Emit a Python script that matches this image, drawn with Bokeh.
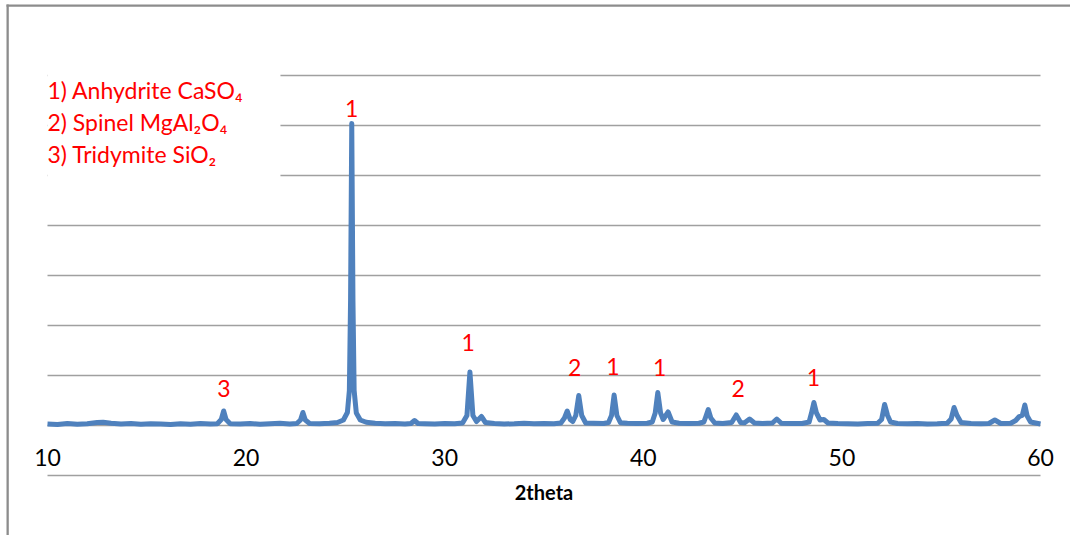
from bokeh.plotting import figure
from bokeh.models import (Range1d, LinearAxis, FixedTicker, Grid, BoxAnnotation,
                          Label, ColumnDataSource)
from bokeh.core.properties import value
from bokeh.embed import file_html
from bokeh.resources import INLINE

# XRD pattern (2theta in degrees, intensity in counts)
two_theta = [
    10.0, 10.5, 11.0, 11.5, 12.0, 12.5, 12.8, 13.2, 13.7, 14.2, 14.7, 15.2, 15.7,
    16.2, 16.7, 17.2, 17.7, 18.2, 18.55, 18.75, 18.87, 18.99, 19.2, 19.7, 20.2,
    20.7, 21.2, 21.7, 22.2, 22.55, 22.74, 22.86, 22.98, 23.2, 23.7, 24.2, 24.6,
    24.9, 25.1, 25.2, 25.26, 25.32, 25.38, 25.44, 25.55, 25.75, 26.05, 26.5, 27.0,
    27.5, 28.0, 28.3, 28.48, 28.66, 29.0, 29.5, 30.0, 30.5, 30.9, 31.12, 31.27,
    31.42, 31.6, 31.85, 32.05, 32.5, 33.0, 33.5, 34.0, 34.5, 35.0, 35.5, 35.85,
    36.03, 36.17, 36.32, 36.45, 36.6, 36.75, 36.9, 37.1, 37.5, 38.0, 38.25, 38.4,
    38.53, 38.67, 38.85, 39.2, 39.7, 40.2, 40.45, 40.6, 40.73, 40.87, 41.0, 41.25,
    41.45, 41.8, 42.3, 42.8, 43.05, 43.15, 43.27, 43.4, 43.6, 44.0, 44.45, 44.68,
    44.9, 45.1, 45.35, 45.6, 46.0, 46.5, 46.72, 46.95, 47.5, 48.0, 48.35, 48.47,
    48.59, 48.72, 48.9, 49.09, 49.3, 49.8, 50.3, 50.8, 51.3, 51.8, 52.0, 52.15,
    52.3, 52.45, 52.8, 53.3, 53.8, 54.3, 54.8, 55.3, 55.5, 55.65, 55.8, 56.0,
    56.5, 57.0, 57.4, 57.7, 58.0, 58.5, 58.75, 58.93, 59.08, 59.21, 59.33, 59.5,
    60.0,
]
intensity = [
    1030, 1020, 1040, 1025, 1035, 1060, 1065, 1045, 1030, 1040, 1025, 1035, 1030,
    1020, 1035, 1025, 1040, 1030, 1035, 1120, 1290, 1120, 1035, 1030, 1040,
    1025, 1035, 1045, 1030, 1040, 1110, 1260, 1110, 1040, 1035, 1045, 1060,
    1110, 1260, 1700, 3500, 7040, 3500, 1700, 1250, 1110, 1065, 1045, 1035,
    1040, 1030, 1040, 1100, 1040, 1035, 1030, 1040, 1035, 1050, 1200, 2070,
    1200, 1080, 1180, 1060, 1040, 1030, 1035, 1045, 1035, 1040, 1035, 1050,
    1150, 1290, 1120, 1080, 1200, 1600, 1200, 1050, 1045, 1040, 1060, 1200,
    1610, 1200, 1055, 1045, 1040, 1045, 1070, 1250, 1660, 1250, 1120, 1270,
    1070, 1045, 1040, 1045, 1070, 1180, 1320, 1150, 1050, 1040, 1060, 1210,
    1060, 1055, 1130, 1050, 1040, 1050, 1130, 1045, 1040, 1040, 1070, 1250,
    1460, 1250, 1110, 1120, 1050, 1040, 1035, 1030, 1040, 1045, 1120, 1420,
    1200, 1070, 1040, 1035, 1040, 1030, 1035, 1045, 1130, 1360, 1200, 1060,
    1040, 1035, 1040, 1110, 1040, 1045, 1100, 1180, 1200, 1410, 1190, 1070,
    1030,
]

# phase markers above the identified reflections
marker_text = ["3", "1", "1", "2", "1", "1", "2", "1"]
marker_x = [18.88, 25.32, 31.18, 36.55, 38.47, 40.83, 44.78, 48.56]
marker_y = [1740, 7340, 2660, 2170, 2190, 2170, 1750, 1970]

# phase key
phase_lines = ["1) Anhydrite CaSO₄", "2) Spinel MgAl₂O₄", "3) Tridymite SiO₂"]
phase_y = [7720, 7070, 6430]

x_ticks = [10, 20, 30, 40, 50, 60]
x_min, x_max = 10, 60
y_gridlines = [0, 1000, 2000, 3000, 4000, 5000, 6000, 7000, 8000]
axis_level = 1000

FONT = "Lato"
RED = "#ff0000"
BORDER = "#8c8c8c"

# the data frame fills the whole canvas; the plotted window sits inside it
W, H = 1070, 535
PLOT_LEFT, PX_PER_DEG = 47, 19.86
ZERO_Y, COUNTS_PER_PX = 475, 20
x_start = x_min - PLOT_LEFT / PX_PER_DEG
x_end = x_min + (W - PLOT_LEFT) / PX_PER_DEG
y_end = ZERO_Y * COUNTS_PER_PX
y_start = y_end - H * COUNTS_PER_PX

p = figure(width=W, height=H, output_backend="svg", toolbar_location=None,
           x_axis_location=None, y_axis_location=None,
           x_range=Range1d(x_start, x_end), y_range=Range1d(y_start, y_end),
           min_border=0)
p.outline_line_color = None
p.background_fill_color = "white"
p.border_fill_color = "white"
for g in p.grid:
    g.visible = False

p.add_layout(Grid(dimension=1, ticker=FixedTicker(ticks=y_gridlines),
                  cross_bounds=(x_min, x_max),
                  grid_line_color="#a0a0a0", grid_line_width=1.3))

src = ColumnDataSource(data=dict(x=two_theta, y=intensity))
p.line("x", "y", source=src, line_color="#4f81bd", line_width=5,
       line_join="round")

# x axis drawn across the plot at the 1000-count level
xaxis = LinearAxis(fixed_location=axis_level, ticker=FixedTicker(ticks=x_ticks),
                   bounds=(x_min, x_max), axis_label="2theta")
xaxis.axis_line_color = None
xaxis.major_tick_line_color = None
xaxis.minor_tick_line_color = None
xaxis.major_label_standoff = 17
xaxis.major_label_text_font = FONT
xaxis.major_label_text_font_size = "23px"
xaxis.major_label_text_color = "#000000"
xaxis.axis_label_text_font = FONT
xaxis.axis_label_text_font_size = "20px"
xaxis.axis_label_text_font_style = "bold"
xaxis.axis_label_text_color = "#000000"
xaxis.axis_label_standoff = 11
p.add_layout(xaxis, "below")

# white panel behind the phase key
p.add_layout(BoxAnnotation(left=x_min, right=21.73, bottom=5500, top=8700,
                           fill_color="white", fill_alpha=1.0, line_color=None))

# chart area border: left and top edges (canvas pixels, measured from top-left)
for l, r, t, b in [(6, 8.3, 4, H + 20), (6, W + 20, 4, 6.3)]:
    p.add_layout(BoxAnnotation(left=l, right=r, top=t, bottom=b,
                               left_units="canvas", right_units="canvas",
                               top_units="canvas", bottom_units="canvas",
                               fill_color=BORDER, fill_alpha=1.0,
                               line_color=None))

for t, yv in zip(phase_lines, phase_y):
    p.add_layout(Label(x=x_min, y=yv, text=t, text_font=FONT,
                       text_font_size="23px", text_color=RED,
                       text_baseline="alphabetic", text_align="left"))

msrc = ColumnDataSource(data=dict(x=marker_x, y=marker_y, t=marker_text))
p.text("x", "y", text="t", source=msrc, text_font=value(FONT),
       text_font_size="23px", text_color=RED, text_align="center",
       text_baseline="alphabetic")

open("out.html", "w").write(file_html(p, INLINE))
